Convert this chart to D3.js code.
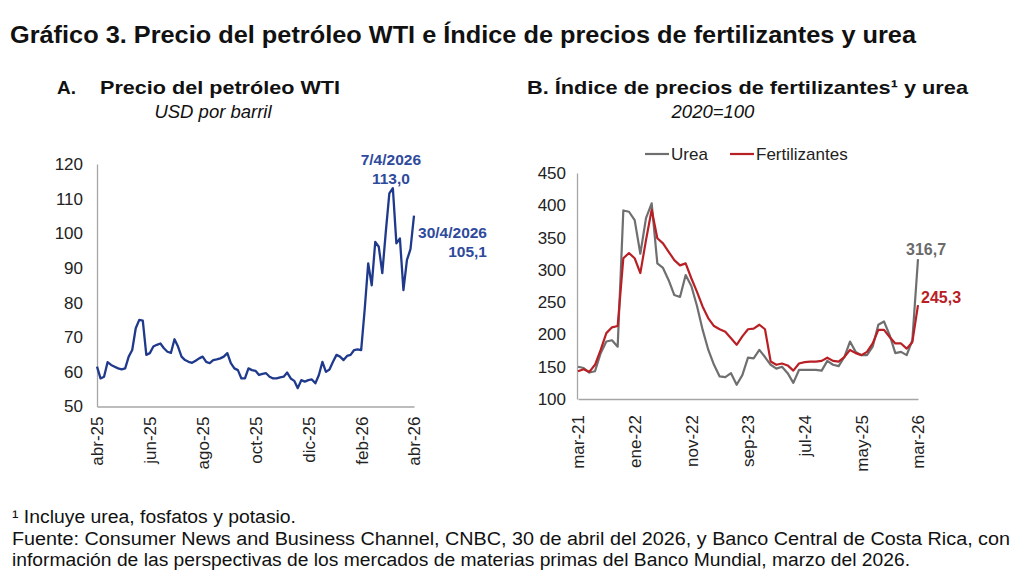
<!DOCTYPE html>
<html>
<head>
<meta charset="utf-8">
<script src="https://cdn.jsdelivr.net/npm/d3@7"></script>
<style>
body { margin: 0; background: #fff; }
svg { font-family: "Liberation Sans", Arial, sans-serif; }
</style>
</head>
<body>
<svg id="svg1" width="1024" height="585"></svg>
<script>
// A: WTI, USD por barril (cada 3 dias habiles, abr-25 a abr-26)
var wtiValues = [
    61.5, 58.1, 58.6, 62.8, 62.0, 61.5, 61.0, 60.7, 61.0, 64.4,
    66.3, 72.6, 75.0, 74.8, 64.9, 65.4, 67.3, 67.8, 68.2, 66.8,
    65.8, 65.5, 69.4, 67.3, 64.4, 63.4, 62.9, 62.6, 63.2, 63.9,
    64.4, 62.9, 62.5, 63.4, 63.6, 63.9, 64.4, 65.4, 62.5, 61.0,
    60.5, 58.1, 58.1, 61.0, 60.5, 60.3, 59.1, 59.4, 59.6, 58.6,
    58.1, 58.1, 58.4, 58.6, 59.8, 58.1, 57.4, 55.3, 57.6, 57.2,
    57.6, 57.8, 56.7, 59.1, 62.9, 60.0, 60.7, 62.9, 64.9, 64.4,
    63.4, 64.6, 64.9, 66.3, 66.5, 66.3, 78.0, 91.3, 85.0, 97.5,
    96.1, 88.5, 100.5, 111.5, 113.0, 97.1, 98.5, 83.6, 92.3, 95.4, 105.1
];
var wtiTickLabels = ["abr-25", "jun-25", "ago-25", "oct-25", "dic-25", "feb-26", "abr-26"];
var wtiLabelStep = 15;
var wtiYTicks = [50, 60, 70, 80, 90, 100, 110, 120];

// B: indices 2020=100, mensual mar-21 a mar-26
var ureaValues = [
    150, 148, 141, 143, 171, 189, 191, 181, 392, 390,
    377, 325, 380, 403, 310, 303, 284, 261, 258, 292,
    275, 244, 207, 176, 153, 135, 134, 140, 122, 137,
    164, 163, 176, 165, 153, 147, 150, 140, 125, 145,
    145, 145, 145, 144, 159, 153, 151, 165, 189, 173,
    168, 168, 181, 215, 220, 199, 171, 173, 168, 191, 316.7
];
var fertValues = [
    143, 146, 142, 153, 176, 202, 211, 213, 318, 326,
    318, 295, 346, 393, 349, 341, 328, 315, 307, 310,
    287, 266, 243, 225, 213, 208, 204, 194, 184, 197,
    208, 209, 215, 208, 158, 153, 155, 152, 144, 155,
    157, 158, 158, 159, 164, 159, 158, 165, 176, 171,
    168, 173, 186, 207, 207, 196, 186, 186, 178, 188, 245.3
];
var fertTickLabels = ["mar-21", "ene-22", "nov-22", "sep-23", "jul-24", "may-25", "mar-26"];
var fertLabelStep = 10;
var fertYTicks = [100, 150, 200, 250, 300, 350, 400, 450];

var svg = d3.select('#svg1');

// titles
svg.append('text')
    .attr('x', 10).attr('y', 43)
    .attr('font-size', 24).attr('font-weight', 'bold').attr('fill', '#111')
    .attr('textLength', 906).attr('lengthAdjust', 'spacingAndGlyphs')
    .text('Gráfico 3. Precio del petróleo WTI e Índice de precios de fertilizantes y urea');

svg.append('text')
    .attr('x', 57).attr('y', 94)
    .attr('font-size', 19).attr('font-weight', 'bold').attr('fill', '#111')
    .text('A.');
svg.append('text')
    .attr('x', 100).attr('y', 94)
    .attr('font-size', 19).attr('font-weight', 'bold').attr('fill', '#111')
    .attr('textLength', 240).attr('lengthAdjust', 'spacingAndGlyphs')
    .text('Precio del petróleo WTI');
svg.append('text')
    .attr('x', 213).attr('y', 118).attr('text-anchor', 'middle')
    .attr('font-size', 18.5).attr('font-style', 'italic').attr('fill', '#111')
    .text('USD por barril');

svg.append('text')
    .attr('x', 527).attr('y', 94)
    .attr('font-size', 19).attr('font-weight', 'bold').attr('fill', '#111')
    .attr('textLength', 441).attr('lengthAdjust', 'spacingAndGlyphs')
    .text('B. Índice de precios de fertilizantes¹ y urea');
svg.append('text')
    .attr('x', 713).attr('y', 118).attr('text-anchor', 'middle')
    .attr('font-size', 18.5).attr('font-style', 'italic').attr('fill', '#111')
    .text('2020=100');

function styleAxis(g) {
    g.select('.domain').attr('stroke', '#a6a6a6').attr('stroke-width', 1.3);
    g.selectAll('text').attr('font-size', 17).attr('fill', '#222')
        .attr('font-family', '"Liberation Sans", Arial, sans-serif');
}

function rotateLabels(g, gap) {
    g.selectAll('text')
        .attr('transform', 'rotate(-90)')
        .attr('text-anchor', 'end')
        .attr('x', -gap)
        .attr('y', 0)
        .attr('dy', '0.35em');
}

// ---- panel A ----
var xA = d3.scaleLinear().domain([0, wtiValues.length - 1]).range([97, 414]);
var yA = d3.scaleLinear().domain([50, 120]).range([406.5, 164]);

svg.append('g')
    .attr('transform', 'translate(97,0)')
    .call(d3.axisLeft(yA).tickValues(wtiYTicks).tickSize(0).tickSizeOuter(0).tickPadding(14))
    .call(styleAxis);

svg.append('g')
    .attr('transform', 'translate(0,406.5)')
    .call(d3.axisBottom(xA)
        .tickValues(d3.range(0, wtiValues.length, wtiLabelStep))
        .tickFormat(function(d, i) { return wtiTickLabels[i]; })
        .tickSize(0).tickSizeOuter(0))
    .call(styleAxis)
    .call(rotateLabels, 10);

svg.append('path')
    .datum(wtiValues)
    .attr('fill', 'none')
    .attr('stroke', '#1f3a8c')
    .attr('stroke-width', 2.3)
    .attr('stroke-linejoin', 'round')
    .attr('d', d3.line().x(function(d, i) { return xA(i); }).y(function(d) { return yA(d); }));

var blue = '#2e4a9c';
var peakIdx = wtiValues.indexOf(d3.max(wtiValues));
var lastIdx = wtiValues.length - 1;
svg.append('text').attr('x', xA(peakIdx) - 2).attr('y', 165).attr('text-anchor', 'middle')
    .attr('font-size', 15.5).attr('font-weight', 'bold').attr('fill', blue).text('7/4/2026');
svg.append('text').attr('x', xA(peakIdx) - 2).attr('y', 184).attr('text-anchor', 'middle')
    .attr('font-size', 15.5).attr('font-weight', 'bold').attr('fill', blue)
    .text(d3.format('.1f')(wtiValues[peakIdx]).replace('.', ','));
svg.append('text').attr('x', 487).attr('y', 238).attr('text-anchor', 'end')
    .attr('font-size', 15.5).attr('font-weight', 'bold').attr('fill', blue).text('30/4/2026');
svg.append('text').attr('x', 487).attr('y', 257).attr('text-anchor', 'end')
    .attr('font-size', 15.5).attr('font-weight', 'bold').attr('fill', blue)
    .text(d3.format('.1f')(wtiValues[lastIdx]).replace('.', ','));

// ---- panel B ----
var xB = d3.scaleLinear().domain([0, ureaValues.length - 1]).range([578, 918]);
var yB = d3.scaleLinear().domain([100, 450]).range([399, 173]);

svg.append('g')
    .attr('transform', 'translate(577,0)')
    .call(d3.axisLeft(yB).tickValues(fertYTicks).tickSize(0).tickSizeOuter(0).tickPadding(11))
    .call(styleAxis);

svg.append('g')
    .attr('transform', 'translate(0,399)')
    .call(d3.axisBottom(xB)
        .tickValues(d3.range(0, ureaValues.length, fertLabelStep))
        .tickFormat(function(d, i) { return fertTickLabels[i]; })
        .tickSize(0).tickSizeOuter(0))
    .call(styleAxis)
    .call(rotateLabels, 16);

var gray = '#6f6f6f';
var red = '#b82025';
var lineB = d3.line().x(function(d, i) { return xB(i); }).y(function(d) { return yB(d); });

svg.append('path').datum(ureaValues)
    .attr('fill', 'none').attr('stroke', gray).attr('stroke-width', 2.2)
    .attr('stroke-linejoin', 'round').attr('d', lineB);
svg.append('path').datum(fertValues)
    .attr('fill', 'none').attr('stroke', red).attr('stroke-width', 2.2)
    .attr('stroke-linejoin', 'round').attr('d', lineB);

var nB = ureaValues.length - 1;
svg.append('text').attr('x', 906).attr('y', 255)
    .attr('font-size', 16).attr('font-weight', 'bold').attr('fill', '#6a6a6a')
    .text(d3.format('.1f')(ureaValues[nB]).replace('.', ','));
svg.append('text').attr('x', 921).attr('y', 303)
    .attr('font-size', 16).attr('font-weight', 'bold').attr('fill', red)
    .text(d3.format('.1f')(fertValues[nB]).replace('.', ','));

// legend
var legend = [
    {name: 'Urea', color: gray, x: 645},
    {name: 'Fertilizantes', color: red, x: 730}
];
var leg = svg.selectAll('.legend').data(legend).enter().append('g').attr('class', 'legend');
leg.append('line')
    .attr('x1', function(d) { return d.x; }).attr('x2', function(d) { return d.x + 24; })
    .attr('y1', 154).attr('y2', 154)
    .attr('stroke', function(d) { return d.color; }).attr('stroke-width', 2.2);
leg.append('text')
    .attr('x', function(d) { return d.x + 26; }).attr('y', 160)
    .attr('font-size', 17).attr('fill', '#222')
    .text(function(d) { return d.name; });

// footnotes
var notes = [
    {t: '¹ Incluye urea, fosfatos y potasio.', y: 523, w: 284},
    {t: 'Fuente: Consumer News and Business Channel, CNBC, 30 de abril del 2026, y Banco Central de Costa Rica, con', y: 545, w: 998},
    {t: 'información de las perspectivas de los mercados de materias primas del Banco Mundial, marzo del 2026.', y: 566, w: 898}
];
svg.selectAll('.note').data(notes).enter().append('text')
    .attr('class', 'note')
    .attr('x', 12).attr('y', function(d) { return d.y; })
    .attr('font-size', 18).attr('fill', '#111')
    .attr('textLength', function(d) { return d.w; })
    .attr('lengthAdjust', 'spacingAndGlyphs')
    .text(function(d) { return d.t; });
</script>
</body>
</html>
